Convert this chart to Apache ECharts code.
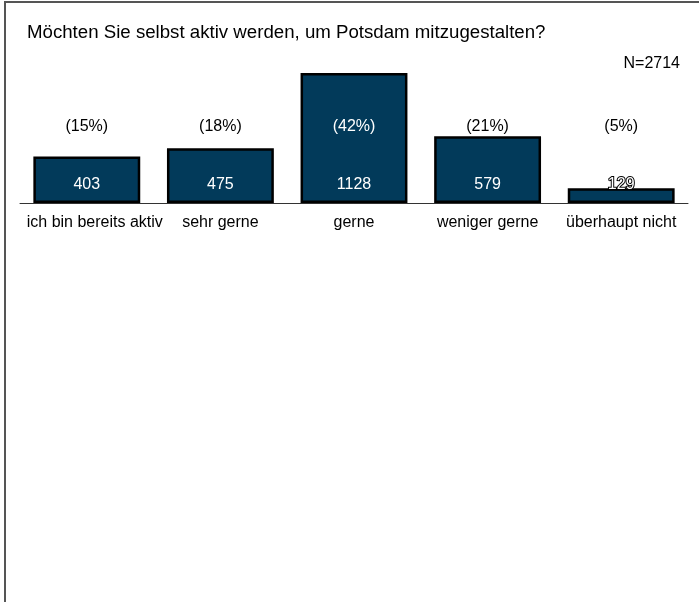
<!DOCTYPE html>
<html>
<head>
<meta charset="utf-8">
<script src="https://cdn.jsdelivr.net/npm/echarts@6/dist/echarts.min.js"></script>
<style>
  html, body { margin: 0; padding: 0; background: #fff; }
  #myChart { width: 699px; height: 602px; }
</style>
</head>
<body>
<div id="myChart"></div>
<script>
// data
const categories = ['ich bin bereits aktiv', 'sehr gerne', 'gerne', 'weniger gerne', 'überhaupt nicht']
const counts = [403, 475, 1128, 579, 129]
const percents = ['(15%)', '(18%)', '(42%)', '(21%)', '(5%)']
const totalN = 2714

const barColor = '#023a5a'
const font = 'Liberation Sans, Arial, sans-serif'

let myChart = echarts.init(document.getElementById('myChart'))
myChart.setOption({
  animation: false,
  textStyle: { fontFamily: font },
  title: [
    {
      text: 'Möchten Sie selbst aktiv werden, um Potsdam mitzugestalten?',
      left: 22,
      top: 18,
      textStyle: { fontSize: 18.67, fontWeight: 'normal', color: '#000', fontFamily: font }
    },
    {
      text: 'N=' + totalN,
      right: 14,
      top: 51,
      textStyle: { fontSize: 16, fontWeight: 'normal', color: '#000', fontFamily: font }
    }
  ],
  graphic: [{
    type: 'rect',
    shape: { x: 5, y: 2, width: 800, height: 700 },
    style: { fill: 'none', stroke: '#555', lineWidth: 2 },
    silent: true
  }],
  grid: { left: 20, right: 11, top: 73, bottom: 399 },
  xAxis: {
    type: 'category',
    // first label sits a bit right of its tick, as in the original
    data: categories.map((c, i) => i === 0 ? { value: c, textStyle: { padding: [0, 0, 0, 16] } } : c),
    axisLine: { lineStyle: { color: '#333', width: 1 } },
    axisTick: { alignWithLabel: true, length: 5, lineStyle: { color: '#333' } },
    axisLabel: { color: '#000', fontSize: 16, margin: 12, interval: 0, fontFamily: font }
  },
  yAxis: {
    type: 'value',
    min: 0,
    max: 1128,
    show: false,
    splitLine: { show: false }
  },
  series: [
    {
      name: 'Anzahl',
      type: 'bar',
      barCategoryGap: '20%',
      data: counts.map((v, i) => ({
        value: v,
        label: v < 200 ? { color: '#fff', textBorderColor: '#000', textBorderWidth: 2 } : {}
      })),
      itemStyle: { color: barColor, borderColor: '#000', borderWidth: 2.5 },
      label: {
        show: true,
        position: 'insideBottom',
        distance: 10,
        color: '#fff',
        fontSize: 16,
        fontFamily: font
      }
    },
    {
      name: 'Prozent',
      type: 'bar',
      barGap: '-100%',
      barCategoryGap: '20%',
      silent: true,
      data: counts.map((v, i) => ({
        value: v,
        label: {
          formatter: percents[i],
          color: v > 800 ? '#fff' : '#000'
        }
      })),
      itemStyle: { color: 'transparent', borderWidth: 0 },
      label: {
        show: true,
        position: 'insideBottom',
        distance: 68,
        fontSize: 16,
        fontFamily: font
      }
    }
  ]
})
</script>
</body>
</html>
